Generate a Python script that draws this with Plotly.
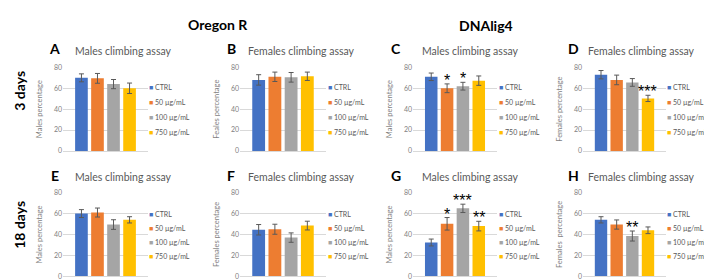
import plotly.graph_objects as go

categories = ["CTRL", "50 µg/mL", "100 µg/mL", "750 µg/mL"]
colors = ["#4472C4", "#ED7D31", "#A5A5A5", "#FFC000"]

A_mean = [70, 69.5, 64, 60];   A_err = [3.8, 4.7, 4.4, 5]
B_mean = [68, 71, 70.5, 71.5]; B_err = [5, 4.5, 4.6, 4]
C_mean = [71, 60, 62, 67.3];   C_err = [3.6, 4.2, 3.7, 4.5]
D_mean = [73, 68, 65.6, 50.3]; D_err = [4, 4.6, 3.7, 3]
E_mean = [60, 61, 49.5, 54];   E_err = [3.8, 4.3, 4.6, 3]
F_mean = [44.5, 45, 37, 48.5]; F_err = [5, 4.8, 4.5, 4.2]
G_mean = [32.3, 50.2, 65, 48]; G_err = [3.3, 6, 4, 4.6]
H_mean = [54, 49.5, 38.5, 44]; H_err = [3, 4.4, 4.8, 3.2]

A_stars = ["", "", "", ""]
B_stars = ["", "", "", ""]
C_stars = ["", "*", "*", ""]
D_stars = ["", "", "", "***"]
E_stars = ["", "", "", ""]
F_stars = ["", "", "", ""]
G_stars = ["", "*", "***", "**"]
H_stars = ["", "", "**", ""]

letters = ["A", "B", "C", "D", "E", "F", "G", "H"]
means = [A_mean, B_mean, C_mean, D_mean, E_mean, F_mean, G_mean, H_mean]
errs = [A_err, B_err, C_err, D_err, E_err, F_err, G_err, H_err]
stars = [A_stars, B_stars, C_stars, D_stars, E_stars, F_stars, G_stars, H_stars]
subtitles = ["Males climbing assay", "Females climbing assay"] * 4
ytitles = ["Males percentage", "Feales percentage", "Males percentage", "Females percentage",
           "Males percentage", "Females percentage", "Males percentage", "Females  percentage"]
y_ticks = [0, 20, 40, 60, 80]

W, H = 712, 279
col_px = [(55, 140), (232, 318), (405, 489), (575, 658)]
row_px = [(56, 142), (185, 271)]
legend_x = [150, 329, 500, 668]
legend_y0 = [76, 206.5]
legend_dy = [15.5, 14.7]
letter_x = [47, 223, 388, 565]
subtitle_x = [65, 238, 412, 578]
title_y = [39, 169]

FONT = "Lato, 'Open Sans', sans-serif"
GRAY = "#595959"

fig = go.Figure()
layout = dict(width=W, height=H, margin=dict(l=0, r=0, t=0, b=0),
              paper_bgcolor="white", plot_bgcolor="white", showlegend=False,
              bargap=0.21, font=dict(family=FONT, color=GRAY))
annotations = []

def px2x(p):
    return p / W

def px2y(p):
    return 1 - p / H

for i in range(8):
    r, c = divmod(i, 4)
    n = i + 1
    xa = "x" if n == 1 else f"x{n}"
    ya = "y" if n == 1 else f"y{n}"
    fig.add_trace(go.Bar(
        x=categories, y=means[i], xaxis=xa, yaxis=ya,
        marker=dict(color=colors, line=dict(width=0)),
        error_y=dict(type="data", array=errs[i], color="#595959", thickness=1, width=2.5),
        name=letters[i], showlegend=False))
    x0, x1 = col_px[c]
    ytop, ybot = row_px[r]
    layout["xaxis" if n == 1 else f"xaxis{n}"] = dict(
        domain=[px2x(x0), px2x(x1)], anchor=ya, type="category",
        range=[-1.15, 4.15], showticklabels=False, ticks="",
        showline=True, linecolor="#D9D9D9", linewidth=1, showgrid=False, zeroline=False,
        fixedrange=True)
    layout["yaxis" if n == 1 else f"yaxis{n}"] = dict(
        domain=[px2y(ybot), px2y(ytop)], anchor=xa, range=[0, 80],
        tickvals=y_ticks, showgrid=True, gridcolor="#D9D9D9", gridwidth=1,
        zeroline=False, showline=False, ticks="",
        tickfont=dict(size=7, color="#7F7F7F", family=FONT),
        title=dict(text=ytitles[i], font=dict(size=7.5, color="#7F7F7F", family=FONT), standoff=10),
        fixedrange=True)
    # panel letter and subtitle
    annotations.append(dict(text=f"<b>{letters[i]}</b>", x=px2x(letter_x[c]), y=px2y(title_y[r] - 2),
                            xref="paper", yref="paper", xanchor="center", yanchor="middle",
                            showarrow=False, font=dict(size=14, color="black", family=FONT)))
    annotations.append(dict(text=subtitles[i], x=px2x(subtitle_x[c]), y=px2y(title_y[r]),
                            xref="paper", yref="paper", xanchor="left", yanchor="middle",
                            showarrow=False, font=dict(size=10.5, color=GRAY, family=FONT)))
    # legend
    for k, cat in enumerate(categories):
        annotations.append(dict(
            text=f"<span style='color:{colors[k]}'>■</span> {cat}",
            x=px2x(legend_x[c] - 11), y=px2y(legend_y0[r] + k * legend_dy[r]),
            xref="paper", yref="paper", xanchor="left", yanchor="middle",
            showarrow=False, font=dict(size=7, color=GRAY, family=FONT)))
    # significance stars
    for k, s in enumerate(stars[i]):
        if s:
            annotations.append(dict(
                text=s, x=categories[k],
                y=means[i][k] + errs[i][k], xref=xa, yref=ya,
                xanchor="center", yanchor="bottom", yshift=-7, showarrow=False,
                font=dict(size=16, color="black", family="Liberation Sans, Arial")))

# group titles
annotations.append(dict(text="<b>Oregon R</b>", x=px2x(210), y=px2y(12), xref="paper", yref="paper",
                        xanchor="center", yanchor="middle", showarrow=False,
                        font=dict(size=14, color="black", family=FONT)))
annotations.append(dict(text="<b>DNAlig4</b>", x=px2x(478), y=px2y(13), xref="paper", yref="paper",
                        xanchor="center", yanchor="middle", showarrow=False,
                        font=dict(size=14, color="black", family=FONT)))
annotations.append(dict(text="<b>3 days</b>", x=px2x(12), y=px2y(80), xref="paper", yref="paper",
                        xanchor="center", yanchor="middle", textangle=-90, showarrow=False,
                        font=dict(size=14, color="black", family=FONT)))
annotations.append(dict(text="<b>18 days</b>", x=px2x(12), y=px2y(218), xref="paper", yref="paper",
                        xanchor="center", yanchor="middle", textangle=-90, showarrow=False,
                        font=dict(size=14, color="black", family=FONT)))

layout["annotations"] = annotations
fig.update_layout(**layout)
fig.write_html("out.html")
